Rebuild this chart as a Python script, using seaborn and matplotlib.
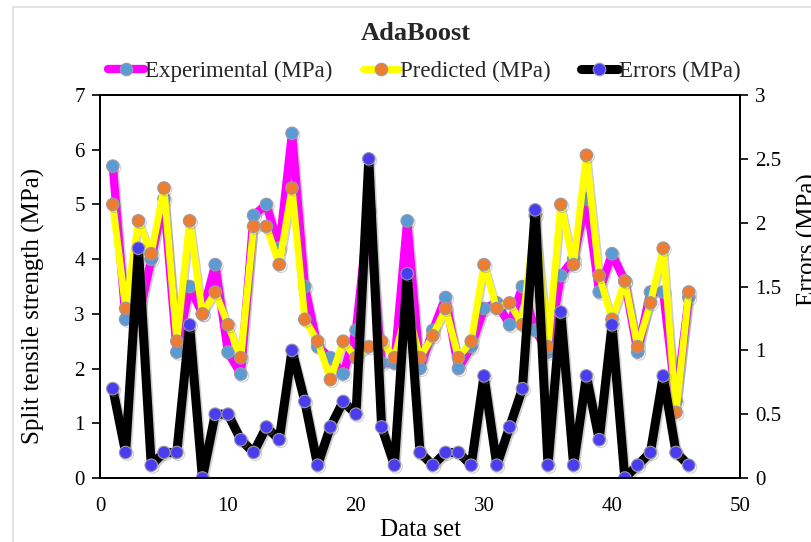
import matplotlib
matplotlib.use("Agg")
import matplotlib.pyplot as plt
import matplotlib.patheffects as pe
from matplotlib.patches import Rectangle
from matplotlib.lines import Line2D
import seaborn as sns
import pandas as pd

# Split tensile strength, AdaBoost model, 46 samples
data_set = list(range(1, 47))
experimental = [5.7, 2.9, 2.9, 4.0, 5.1, 2.3, 3.5, 3.0, 3.9, 2.3,
                1.9, 4.8, 5.0, 4.2, 6.3, 3.5, 2.4, 2.2, 1.9, 2.7,
                4.9, 2.1, 2.1, 4.7, 2.0, 2.7, 3.3, 2.0, 2.4, 3.1,
                3.2, 2.8, 3.5, 2.7, 2.3, 3.7, 4.0, 5.1, 3.4, 4.1,
                3.6, 2.3, 3.4, 3.4, 1.4, 3.3]
predicted = [5.0, 3.1, 4.7, 4.1, 5.3, 2.5, 4.7, 3.0, 3.4, 2.8,
             2.2, 4.6, 4.6, 3.9, 5.3, 2.9, 2.5, 1.8, 2.5, 2.2,
             2.4, 2.5, 2.2, 3.1, 2.2, 2.6, 3.1, 2.2, 2.5, 3.9,
             3.1, 3.2, 2.8, 4.8, 2.4, 5.0, 3.9, 5.9, 3.7, 2.9,
             3.6, 2.4, 3.2, 4.2, 1.2, 3.4]
errors = [0.7, 0.2, 1.8, 0.1, 0.2, 0.2, 1.2, 0.0, 0.5, 0.5,
          0.3, 0.2, 0.4, 0.3, 1.0, 0.6, 0.1, 0.4, 0.6, 0.5,
          2.5, 0.4, 0.1, 1.6, 0.2, 0.1, 0.2, 0.2, 0.1, 0.8,
          0.1, 0.4, 0.7, 2.1, 0.1, 1.3, 0.1, 0.8, 0.3, 1.2,
          0.0, 0.1, 0.2, 0.8, 0.2, 0.1]

df = pd.DataFrame({"set": data_set, "exp": experimental,
                   "pred": predicted, "err": errors})

sns.set_theme(style="white")
plt.rcParams["font.family"] = ["Liberation Serif", "DejaVu Serif"]

fig = plt.figure(figsize=(8.11, 5.42), dpi=100)
ax = fig.add_axes([100 / 811, 1 - 478 / 542, 640 / 811, 383 / 542])
ax2 = ax.twinx()

# light chart-area border
fig.patches.append(Rectangle((13 / 811, -0.05), 1.1, 1 - 7 / 542 + 0.05,
                             transform=fig.transFigure, fill=False,
                             edgecolor="#e3e3e3", linewidth=1.5, zorder=0))

shadow = [pe.SimpleLineShadow(offset=(1.2, -1.2), shadow_color="#777777", alpha=0.35),
          pe.Normal()]

series = [
    (ax, "exp", "#ff00ff", 6.0, "#5b9bd5", "Experimental (MPa)"),
    (ax, "pred", "#ffff00", 5.0, "#ed7d31", "Predicted (MPa)"),
    (ax2, "err", "#000000", 6.5, "#4a3df0", "Errors (MPa)"),
]
handles = []
for a, col, lc, lw, mc, lab in series:
    sns.lineplot(data=df, x="set", y=col, ax=a, color=lc, linewidth=lw,
                 marker="o", markersize=9, markerfacecolor=mc,
                 markeredgecolor="#9a9aa8", markeredgewidth=0.8,
                 path_effects=shadow, legend=False)
    handles.append(Line2D([0], [0], color=lc, linewidth=lw, marker="o",
                          markersize=9, markerfacecolor=mc,
                          markeredgecolor="#9a9aa8", markeredgewidth=0.8))

ax.set_xlim(0, 50)
ax.set_ylim(0, 7)
ax2.set_ylim(0, 3)
ax.set_xticks(range(0, 51, 10))
ax.set_yticks(range(0, 8))
ax2.set_yticks([0, 0.5, 1, 1.5, 2, 2.5, 3])
ax2.set_yticklabels(["0", "0.5", "1", "1.5", "2", "2.5", "3"])

for a in (ax, ax2):
    for s in a.spines.values():
        s.set_color("black")
        s.set_linewidth(1.3)

ax.tick_params(axis="x", direction="inout", length=8, width=1.2, labelsize=15,
               pad=10, colors="black")
ax.tick_params(axis="y", direction="out", length=6, width=1.2, labelsize=15,
               pad=5, left=True, colors="black")
ax2.tick_params(axis="y", direction="out", length=6, width=1.2, labelsize=15,
                pad=5, right=True, colors="black")

ax.set_xlabel("Data set", fontsize=18, color="black")
ax.xaxis.set_label_coords(0.5, -(530 - 478) / 383)
ax.xaxis.label.set_va("center")

ax.set_ylabel("Split tensile strength (MPa)", fontsize=18, color="black")
ax.yaxis.set_label_coords(-(100 - 33) / 640, (478 - 306) / 383)
ax.yaxis.label.set_va("center")

ax2.set_ylabel("Errors (MPa)", fontsize=18, color="black", rotation=90)
ax2.yaxis.set_label_coords((808 - 100) / 640, (478 - 240) / 383)
ax2.yaxis.label.set_va("center")

fig.text(416 / 811, 1 - 33 / 542, "AdaBoost", ha="center", va="center",
         fontsize=19, fontweight="bold")

fig.legend(handles, [s[5] for s in series], loc="center",
           bbox_to_anchor=(424 / 811, 1 - 71 / 542), ncol=3, frameon=False,
           fontsize=16.5, handlelength=1.6, handletextpad=0.05, columnspacing=1.3)

fig.savefig("out.png", dpi=100)
